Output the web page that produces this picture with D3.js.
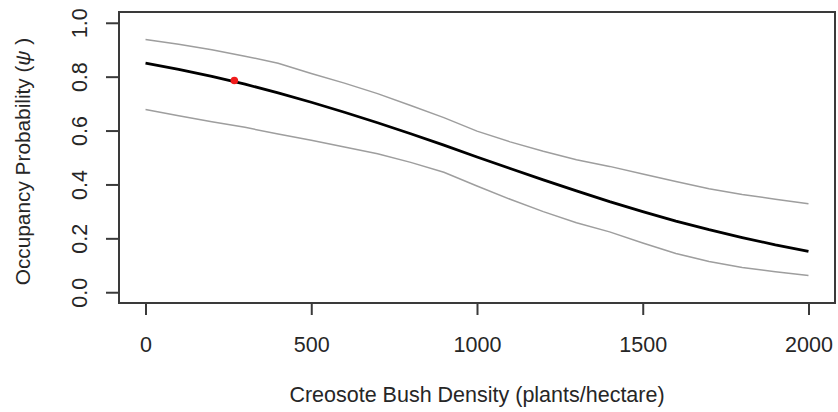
<!DOCTYPE html>
<html><head><meta charset="utf-8">
<script src="https://cdn.jsdelivr.net/npm/d3@7"></script>
<style>body{margin:0;background:#fff}svg{display:block}</style>
</head><body>
<svg id="c" width="838" height="412"></svg>
<script>
const density = [0,100,200,300,400,500,600,700,800,900,1000,1100,1200,1300,1400,1500,1600,1700,1800,1900,2000];
const psiMean = [0.850,0.827,0.801,0.772,0.740,0.705,0.668,0.629,0.588,0.546,0.502,0.459,0.417,0.376,0.336,0.299,0.264,0.232,0.203,0.176,0.152];
const psiUpper = [0.938,0.920,0.900,0.876,0.850,0.812,0.776,0.737,0.693,0.648,0.598,0.558,0.523,0.492,0.467,0.439,0.411,0.384,0.363,0.345,0.328];
const psiLower = [0.678,0.655,0.633,0.612,0.587,0.564,0.539,0.514,0.482,0.445,0.394,0.345,0.299,0.258,0.224,0.183,0.144,0.114,0.092,0.076,0.062];
const pointX = [268];
const pointY = [0.786];
const xTicks = [0,500,1000,1500,2000];
const yTicks = [0.0,0.2,0.4,0.6,0.8,1.0];
const xTitle = "Creosote Bush Density (plants/hectare)";
const yTitle = "Occupancy Probability (";
const yTitleSym = "ψ";

const svg = d3.select("#c");
const L = 119, R = 835, T = 12, B = 303;
const x = d3.scaleLinear().domain([-80, 2080]).range([L, R]);
const y = d3.scaleLinear().domain([-0.04, 1.04]).range([B, T]);
const font = "'Liberation Sans', Arial, sans-serif";
const txt = "#262626";
const fs = 21.5;

const line = (vals) => d3.line().x((d,i)=>x(density[i])).y(d=>y(d))(vals);

svg.append("path").attr("d", line(psiUpper)).attr("fill","none").attr("stroke","#9e9e9e").attr("stroke-width",1.5);
svg.append("path").attr("d", line(psiLower)).attr("fill","none").attr("stroke","#9e9e9e").attr("stroke-width",1.5);
svg.append("path").attr("d", line(psiMean)).attr("fill","none").attr("stroke","#000").attr("stroke-width",2.8);

svg.selectAll("circle.pt").data(pointX).enter().append("circle")
  .attr("cx", d=>x(d)).attr("cy",(d,i)=>y(pointY[i])).attr("r",3.8).attr("fill","#f01c1c");

svg.append("rect").attr("x",L).attr("y",T).attr("width",R-L).attr("height",B-T)
  .attr("fill","none").attr("stroke","#3a3a3a").attr("stroke-width",2);

// x axis
const gx = svg.append("g").attr("transform",`translate(0,${B})`)
  .call(d3.axisBottom(x).tickValues(xTicks).tickSize(12).tickPadding(22).tickFormat(d3.format("d")));
gx.select(".domain").remove();
gx.selectAll(".tick line").attr("stroke","#3a3a3a").attr("stroke-width",2);
gx.selectAll(".tick text").attr("font-family",font).attr("font-size",fs).attr("fill",txt);

// y axis
const gy = svg.append("g").attr("transform",`translate(${L},0)`)
  .call(d3.axisLeft(y).tickValues(yTicks).tickSize(13).tickFormat(d3.format(".1f")));
gy.select(".domain").remove();
gy.selectAll(".tick line").attr("stroke","#3a3a3a").attr("stroke-width",2);
gy.selectAll(".tick text")
  .attr("font-family",font).attr("font-size",fs).attr("fill",txt)
  .attr("x",0).attr("dy",null).attr("text-anchor","middle")
  .attr("transform","translate(-39,0) rotate(-90)")
  .attr("dominant-baseline","central");

svg.append("text").attr("x",(L+R)/2).attr("y",402).attr("text-anchor","middle")
  .attr("font-family",font).attr("font-size",fs).attr("fill",txt).text(xTitle);

const yt = svg.append("text").attr("transform",`translate(30,${(T+B)/2 + 4}) rotate(-90)`)
  .attr("text-anchor","middle").attr("font-family",font).attr("font-size",20.8).attr("fill",txt);
yt.append("tspan").text(yTitle);
yt.append("tspan").attr("font-style","italic").text(yTitleSym);
yt.append("tspan").text(" )");
</script>
</body></html>
